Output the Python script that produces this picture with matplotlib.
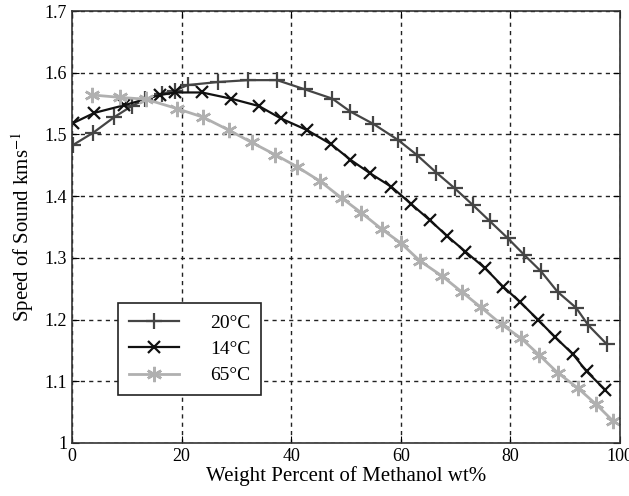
import matplotlib
matplotlib.use("Agg")
import matplotlib.pyplot as plt

# 20 °C series
x20 = [0.2, 3.9, 7.7, 10.9, 13.4, 16.4, 18.8, 21.1, 26.7, 32.2, 37.4, 42.5, 47.5,
       50.8, 55.0, 59.5, 62.9, 66.5, 69.8, 73.1, 76.3, 79.5, 82.5, 85.6, 88.6,
       92.0, 94.2, 97.6]
y20 = [1.483, 1.503, 1.528, 1.546, 1.557, 1.566, 1.571, 1.580, 1.585, 1.588, 1.588,
       1.573, 1.558, 1.537, 1.517, 1.491, 1.467, 1.438, 1.413, 1.386, 1.359, 1.332,
       1.305, 1.278, 1.245, 1.219, 1.191, 1.160]

# 14 °C series
x14 = [0.1, 4.1, 9.4, 16.1, 18.8, 23.7, 29.0, 34.1, 38.1, 42.9, 47.3, 50.8, 54.4,
       58.3, 61.8, 65.3, 68.5, 71.8, 75.4, 78.7, 81.7, 85.0, 88.1, 91.4, 93.9, 97.3]
y14 = [1.518, 1.535, 1.547, 1.564, 1.568, 1.568, 1.558, 1.546, 1.526, 1.507, 1.484,
       1.459, 1.437, 1.415, 1.388, 1.361, 1.335, 1.310, 1.283, 1.253, 1.229, 1.200,
       1.172, 1.144, 1.116, 1.086]

# 65 °C series
x65 = [3.6, 8.8, 13.5, 19.1, 23.9, 28.6, 32.8, 37.1, 41.0, 45.3, 49.2, 52.8, 56.6,
       60.0, 63.5, 67.6, 71.1, 74.6, 78.4, 81.9, 85.2, 88.6, 92.3, 95.6, 98.8]
y65 = [1.564, 1.560, 1.557, 1.542, 1.528, 1.507, 1.487, 1.467, 1.448, 1.424, 1.397,
       1.373, 1.346, 1.324, 1.295, 1.270, 1.245, 1.220, 1.192, 1.170, 1.143, 1.114,
       1.089, 1.063, 1.035]

labels = ["20°C", "14°C", "65°C"]
xticks = [0, 20, 40, 60, 80, 100]
yticks = [1, 1.1, 1.2, 1.3, 1.4, 1.5, 1.6, 1.7]

plt.rcParams['font.family'] = ['Liberation Serif', 'DejaVu Serif']
plt.rcParams['mathtext.fontset'] = 'stix'

fig = plt.figure(figsize=(6.29, 4.96), dpi=100)
ax = fig.add_axes([0.1145, 0.1069, 0.8712, 0.8709])

ax.plot(x20, y20, color='#454545', lw=1.6, marker='+', ms=11, mew=1.6, label=labels[0])
ax.plot(x14, y14, color='#111111', lw=1.6, marker='x', ms=8, mew=1.6, label=labels[1])
ax.plot(x65, y65, color='#b0b0b0', lw=2.0, marker=(6, 2, 0), ms=11, mew=1.8, label=labels[2])

ax.set_xlim(0, 100)
ax.set_ylim(1, 1.7)
ax.set_xticks(xticks)
ax.set_yticks(yticks)
ax.set_yticklabels(['1', '1.1', '1.2', '1.3', '1.4', '1.5', '1.6', '1.7'])
ax.tick_params(direction='in', length=5, top=True, right=True, labelsize=13)
ax.grid(True, color='#222222', linestyle=(0, (3, 3)), linewidth=1.0)
for s in ax.spines.values():
    s.set_linewidth(1.2)
    s.set_color('#333333')

ax.set_xlabel('Weight Percent of Methanol wt%', fontsize=15, labelpad=1)
ax.set_ylabel('Speed of Sound kms$^{-1}$', fontsize=15, labelpad=6)

leg = ax.legend(loc='lower left', bbox_to_anchor=(0.084, 0.111), borderaxespad=0,
                fontsize=14, fancybox=False, framealpha=1, edgecolor='#222222',
                handlelength=2.6, borderpad=0.55, labelspacing=0.45, handletextpad=1.6)
leg.get_frame().set_linewidth(1.2)

fig.savefig('out.png', dpi=100)
